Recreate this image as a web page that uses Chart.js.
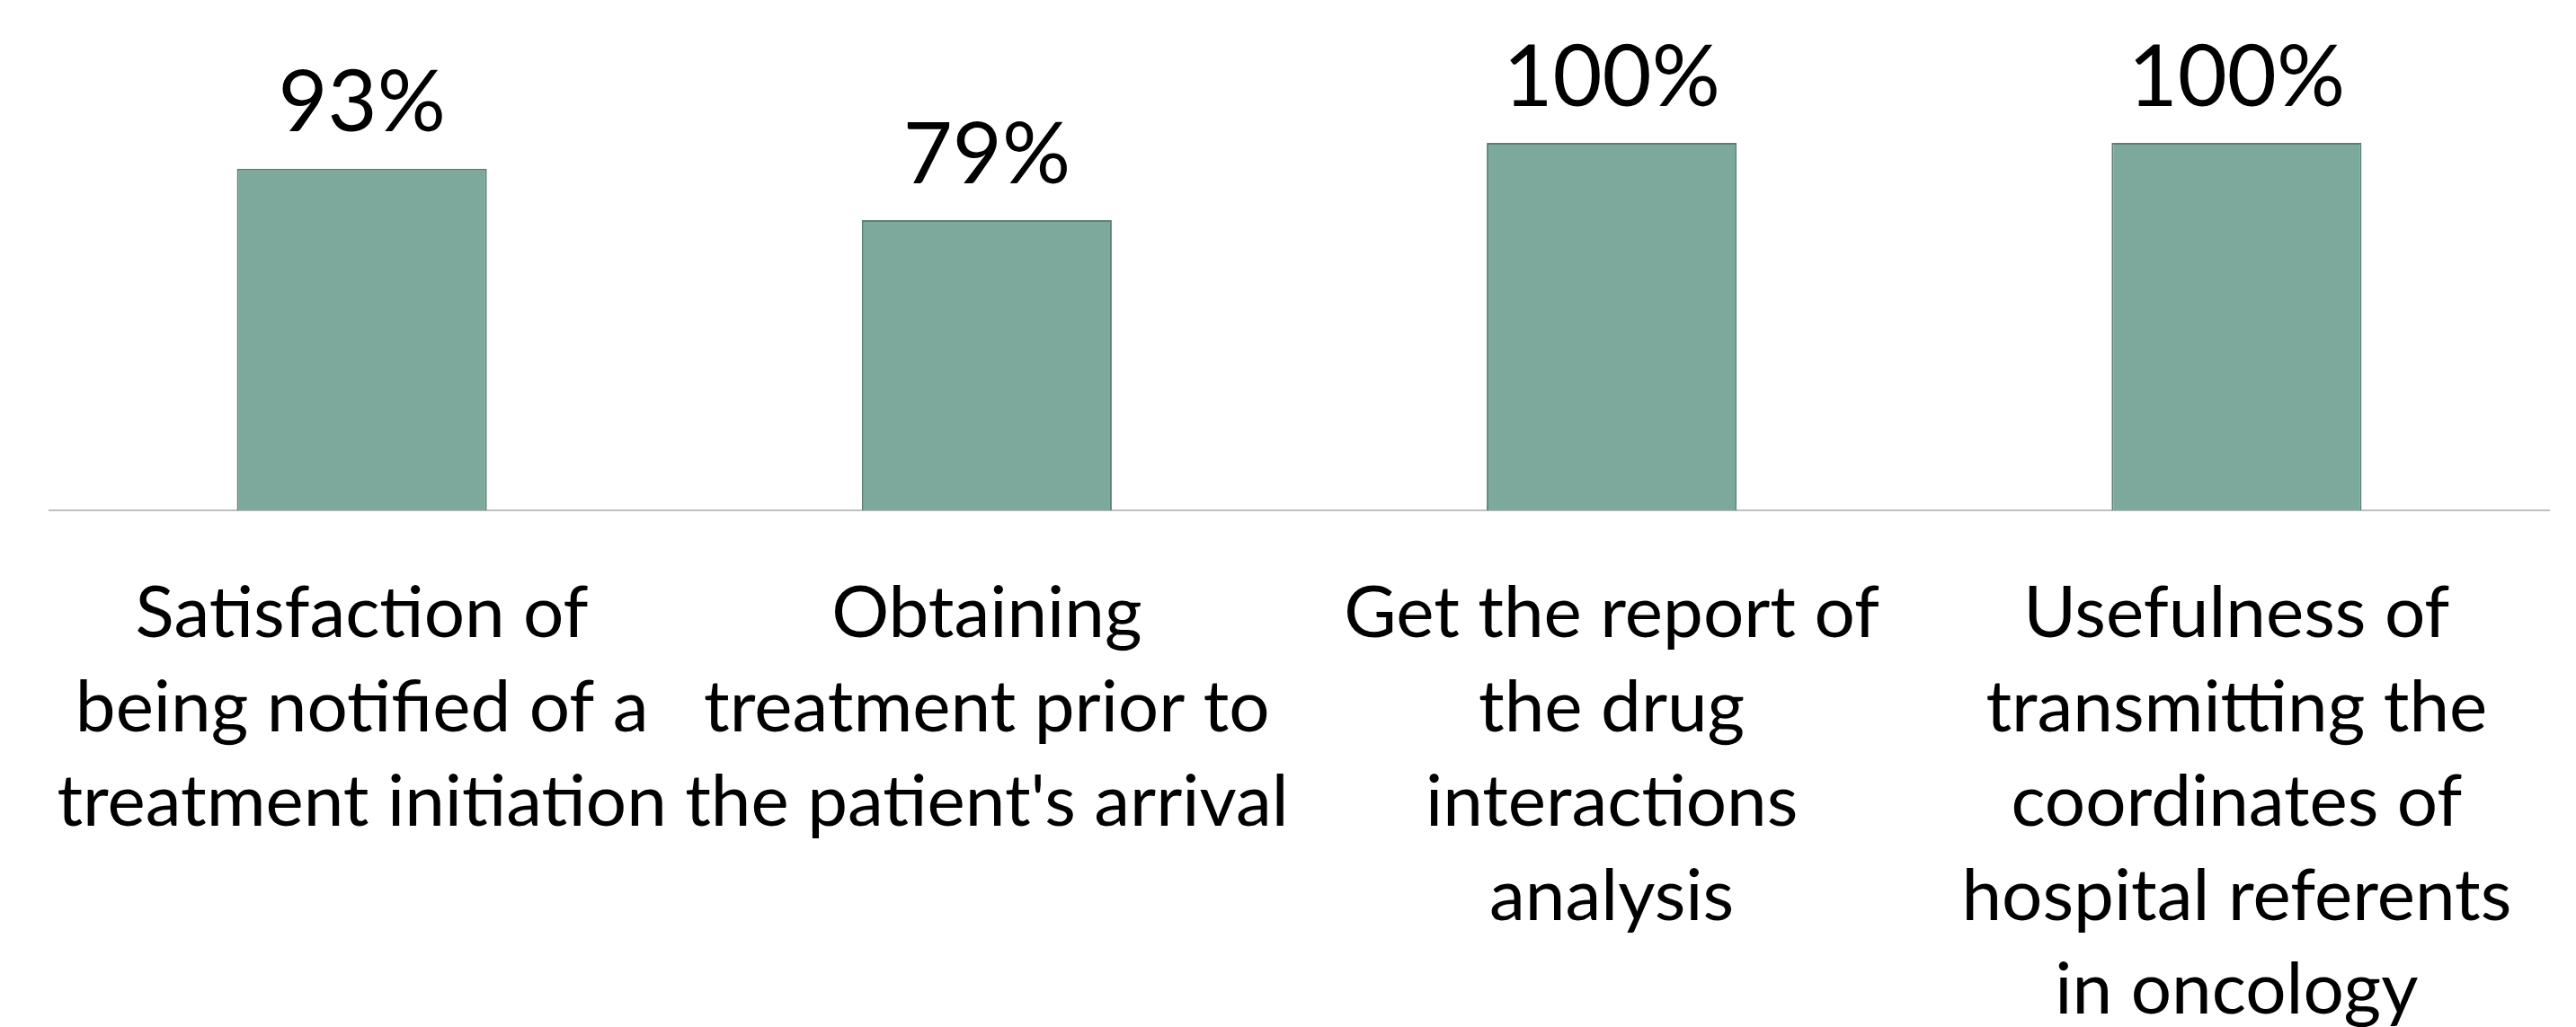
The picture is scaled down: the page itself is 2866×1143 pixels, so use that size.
<!DOCTYPE html>
<html>
<head>
<meta charset="utf-8">
<script src="https://cdn.jsdelivr.net/npm/chart.js@4.4.1/dist/chart.umd.min.js"></script>
<style>
  html, body { margin: 0; padding: 0; background: #fff; }
  canvas { display: block; }
</style>
</head>
<body>
<canvas id="chart" width="2866" height="1143"></canvas>
<script>
// data
const categories = [
  ['Satisfaction of', 'being notified of a', 'treatment initiation'],
  ['Obtaining', 'treatment prior to', "the patient's arrival"],
  ['Get the report of', 'the drug', 'interactions', 'analysis'],
  ['Usefulness of', 'transmitting the', 'coordinates of', 'hospital referents', 'in oncology']
];
const percents = [93, 79, 100, 100];

const el = id => document.getElementById(id);
const FONT = 'Lato, Carlito, Calibri, sans-serif';

// draws the "93%" style labels above each bar
const valueLabels = {
  id: 'valueLabels',
  afterDatasetsDraw(chart) {
    const ctx = chart.ctx;
    const meta = chart.getDatasetMeta(0);
    ctx.save();
    ctx.font = '95px ' + FONT;
    ctx.fillStyle = '#000';
    ctx.textAlign = 'center';
    ctx.textBaseline = 'middle';
    meta.data.forEach((bar, i) => {
      ctx.fillText(percents[i] + '%', bar.x, bar.y - 72);
    });
    ctx.restore();
  }
};

new Chart(el('chart').getContext('2d'), {
  type: 'bar',
  data: {
    labels: categories,
    datasets: [{
      data: percents,
      backgroundColor: '#7da89c',
      borderColor: '#5b8077',
      borderWidth: 2,
      categoryPercentage: 1,
      barPercentage: 0.4
    }]
  },
  options: {
    responsive: false,
    animation: false,
    layout: { padding: { left: 55, right: 30, top: 159, bottom: 0 } },
    plugins: { legend: { display: false }, tooltip: { enabled: false } },
    scales: {
      y: { display: false, min: 0, max: 100 },
      x: {
        grid: { display: false, drawTicks: false },
        border: { display: true, color: '#bfbfbf', width: 2 },
        afterFit: s => { s.height = 575; s.paddingLeft = 0; s.paddingRight = 0; },
        ticks: {
          autoSkip: false, maxRotation: 0, minRotation: 0,
          padding: 63, color: '#000',
          font: { family: FONT, size: 80, lineHeight: 1.31 }
        }
      }
    }
  },
  plugins: [valueLabels]
});
</script>
</body>
</html>
